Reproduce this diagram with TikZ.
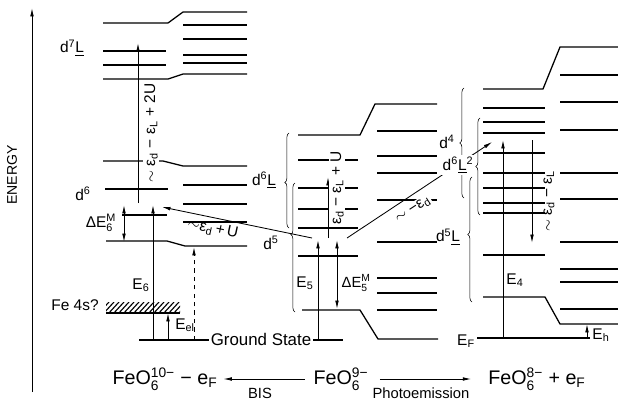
\documentclass[tikz,border=0pt]{standalone}
\usepackage{amsmath}
\usepackage{fontspec}
\setmainfont{Liberation Sans}
\usetikzlibrary{arrows.meta,decorations.pathreplacing}
\newcommand{\lsub}[1]{\textsubscript{#1}}
\newcommand{\lsup}[1]{\textsuperscript{#1}}
\newcommand{\stk}[2]{$^{\text{#2}}_{\text{#1}}$}
\newcommand{\Lb}{\underline{L}}
\tikzset{
  lev/.style={line width=0.9pt},
  arr/.style={->,semithick},
  brc/.style={decorate,decoration={brace,amplitude=3pt,aspect=#1},thin},
  brc/.default=0.5,
  lab/.style={inner sep=1pt,font=\fontsize{11}{13}\selectfont},
  wlab/.style={lab,fill=white},
}
\begin{document}
\begin{tikzpicture}[x=0.025cm,y=-0.025cm,>={Latex[length=6pt,width=2.6pt]}]
        \useasboundingbox (0,0) rectangle (618,402);
        \draw [arr] (32,392) -- (32,8);
        \node [lab,rotate=90,font=\fontsize{10}{12}\selectfont] (energy) at (12,175) {ENERGY};
        % FeO6 10- levels
        \draw [lev] (103,23) -- (168,23) -- (183,12) -- (247,12);
        \draw [lev] (103,79) -- (168,79) -- (183,74) -- (247,74);
        \draw [lev] (103,161) -- (163,161) -- (183,166) -- (247,166);
        \draw [lev] (106,241) -- (167,241) -- (185,246) -- (247,246);
        \foreach \y in {51,65} \draw [lev] (103,\y) -- (166,\y);
        \draw [lev] (105,189) -- (168,189);
        \draw [lev] (122,215) -- (167,215);
        \foreach \y in {25,39,55,63,185,204,222} \draw [lev] (183,\y) -- (247,\y);
        \begin{scope}
            \clip (106,302) rectangle (180,313);
            \foreach \i in {0,...,16} \draw [thick] (98+5*\i,314) -- ++(11,-12);
        \end{scope}
        \draw [lev] (106,313) -- (180,313);
        \draw [lev] (139,340) -- (343,340);
        % FeO6 9- levels
        \draw [lev] (298,135) -- (360,135) -- (375,104) -- (437,104);
        \draw [lev] (302,310) -- (360,310) -- (378,339) -- (438,339);
        \foreach \y in {160,188,209,228,256} \draw [lev] (298,\y) -- (358,\y);
        \foreach \y in {131,156,173,200,242,278,293,310} \draw [lev] (377,\y) -- (437,\y);
        % FeO6 8- levels
        \draw [lev] (483,89) -- (543,89) -- (560,47) -- (618,47);
        \draw [lev] (483,297) -- (545,297) -- (560,324) -- (618,324);
        \foreach \y in {108,122,133,153,173,188,203,213,255} \draw [lev] (483,\y) -- (545,\y);
        \foreach \y in {75,102,130,173,199,242,269,282,309} \draw [lev] (560,\y) -- (618,\y);
        \draw [lev] (477,338) -- (590,338);
        % braces
        \draw [brc=0.48] (289,228) -- (289,133);
        \draw [brc=0.6] (295,312) -- (295,183);
        \draw [brc=0.5] (464,198) -- (464,88);
        \draw [brc=0.5] (480,215) -- (480,118);
        \draw [brc=0.54] (472,302) -- (472,177);
        % arrows
        \draw [arr] (138,203) -- (138,43);
        \draw [arr,<->] (124,242) -- (124,205);
        \draw [arr] (153,340) -- (153,205);
        \draw [arr] (168,340) -- (168,313);
        \draw [arr,dashed] (194,340) -- (194,247);
        \draw [arr] (312,238) -- (162,207);
        \draw [arr] (318,339) -- (318,240);
        \draw [arr,<->] (337,240) -- (337,309);
        \draw [arr] (328,238) -- (328,177);
        \draw [arr] (347,238) -- (492,142);
        \draw [arr] (503,338) -- (503,140);
        \draw [arr] (532,140) -- (532,243);
        \draw [arr] (587,338) -- (587,324);
        % labels
        \node [lab] (d7L) at (72,48) {d\lsup{7}\Lb};
        \node [lab] (d6) at (83,194) {d\lsup{6}};
        \node [lab] (dE6) at (101,223) {ΔE\stk{6}{M}};
        \node [lab] (fe4s) at (75,305) {Fe 4s?};
        \node [lab] (E6) at (141,285) {E\lsub{6}};
        \node [lab] (Eel) at (185,325) {E\lsub{el}};
        \node [wlab,rotate=90] (c6lab) at (151,133) {$\sim$ ε\lsub{d} − ε\lsub{L} + 2U};
        \node [lab,rotate=-12] (Ulab) at (213,229) {$\sim$ε\lsub{d}\,+\,U};
        \node [wlab,font=\fontsize{12}{14}\selectfont] (gs) at (261,339) {Ground State};
        \node [lab] (d6L) at (264,180) {d\lsup{6}\Lb};
        \node [lab] (d5) at (271,243) {d\lsup{5}};
        \node [lab] (E5) at (305,283) {E\lsub{5}};
        \node [lab,anchor=west,font=\fontsize{10.5}{12}\selectfont] (dE5) at (340,283) {ΔE\stk{5}{M}};
        \node [wlab,rotate=90] (c5lab) at (337,188) {ε\lsub{d} − ε\lsub{L} + U};
        \node [wlab,rotate=33] (edlab) at (413,210) {$\sim$ −ε\lsub{d}};
        \node [lab] (EF) at (466,341) {E\lsub{F}};
        \node [lab] (d4) at (447,142) {d\lsup{4}};
        \node [wlab] (d6L2) at (458,165) {d\lsup{6}\Lb\lsup{2}};
        \node [lab] (d5L) at (448,237) {d\lsup{5}\Lb};
        \node [lab] (E4) at (515,280) {E\lsub{4}};
        \node [lab,rotate=90] (c4lab) at (549,201) {$\sim$ ε\lsub{d} − ε\lsub{L}};
        \node [lab] (Eh) at (601,335) {E\lsub{h}};
        % reactions
        \begin{scope}[every node/.style={font=\fontsize{14}{16}\selectfont,inner sep=2pt}]
            \node (feo10) at (165,379) {FeO\stk{6}{10−} − e\lsub{F}};
            \node (feo9) at (341,379) {FeO\stk{6}{9−}};
            \node (feo8) at (537,379) {FeO\stk{6}{8−} + e\lsub{F}};
        \end{scope}
        \draw [arr] (feo9.west) ++(-4pt,0) -- ([xshift=2pt]feo10.east);
        \draw [arr,shorten >=10pt] ([xshift=6pt]feo9.east) -- (feo8.west);
        \node [lab,font=\fontsize{10.5}{12}\selectfont] (bis) at (260,393) {BIS};
        \node [lab,font=\fontsize{10.5}{12}\selectfont] (photo) at (421,393) {Photoemission};
\end{tikzpicture}
\end{document}
